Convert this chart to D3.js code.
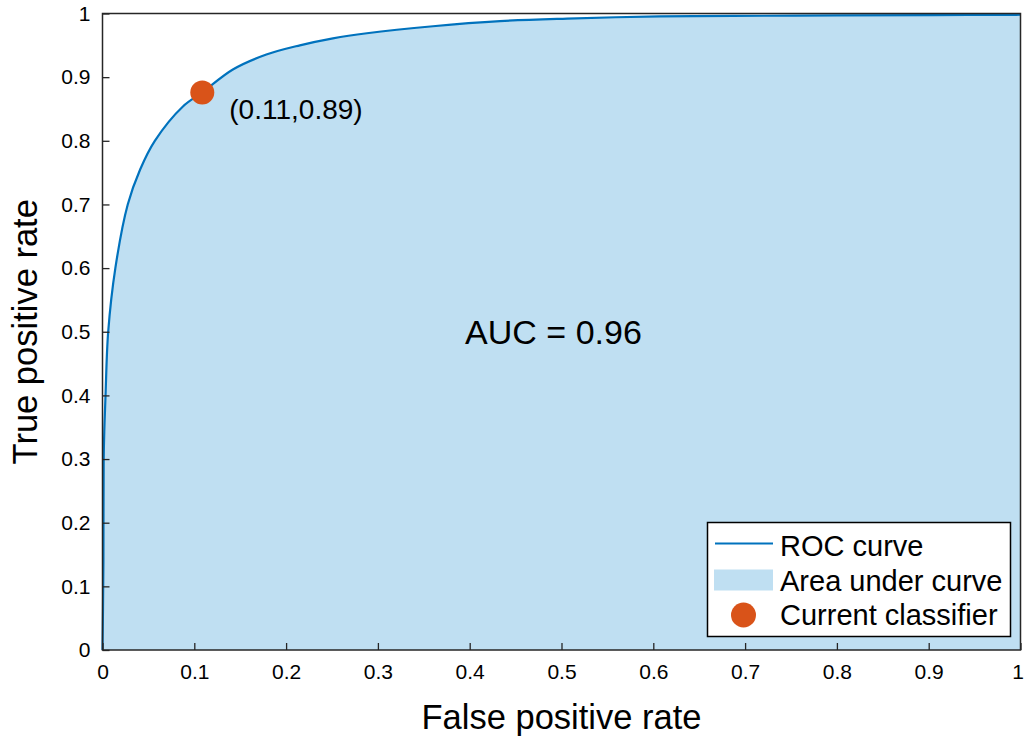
<!DOCTYPE html>
<html>
<head>
<meta charset="utf-8">
<script src="https://cdn.jsdelivr.net/npm/d3@7"></script>
<style>
  body { margin: 0; background: #fff; }
  svg { font-family: "Liberation Sans", Arial, sans-serif; }
</style>
</head>
<body>
<svg width="1024" height="738"></svg>
<script>
"use strict";

// ROC curve points
const fpr = [0, 0.0005, 0.001, 0.0013, 0.002, 0.0033, 0.0062, 0.014, 0.0275, 0.041, 0.057, 0.0876, 0.1087,
  0.142, 0.1785, 0.215, 0.251, 0.288, 0.36, 0.433, 0.506, 0.607, 0.687, 0.8, 0.905, 1.0];
const tpr = [0, 0.06, 0.14, 0.3, 0.346, 0.40, 0.50, 0.60, 0.70, 0.755, 0.80, 0.854, 0.876,
  0.912, 0.9355, 0.950, 0.961, 0.969, 0.980, 0.988, 0.992, 0.9955, 0.9962, 0.997, 0.9974, 0.998];

// current operating point (marker) and its label
const classifier = [0.1087, 0.876];
const classifierLabel = "(0.11,0.89)";
const aucLabel = "AUC = 0.96";

const ticks = [0, 0.1, 0.2, 0.3, 0.4, 0.5, 0.6, 0.7, 0.8, 0.9, 1];
const legendItems = ["ROC curve", "Area under curve", "Current classifier"];

const lineColor = "#0072BD";
const fillColor = "#BFDFF2";
const markerColor = "#D95319";

const svg = d3.select("svg");

// 축 범위 (MATLAB 스타일 box)
const x = d3.scaleLinear().domain([0, 1]).range([102.5, 1020.5]);
const y = d3.scaleLinear().domain([0, 1]).range([650, 13.5]);

const pts = fpr.map((f, i) => [f, tpr[i]]);

const line = d3.line()
  .x((d) => x(d[0]))
  .y((d) => y(d[1]))
  .curve(d3.curveCatmullRom.alpha(0.5));

// area under curve: curve path closed down to the x axis
const curvePath = line(pts);
svg.append("path")
  .attr("d", `${curvePath}L${x(1)},${y(0)}L${x(0)},${y(0)}Z`)
  .attr("fill", fillColor);

svg.append("path")
  .attr("d", curvePath)
  .attr("fill", "none")
  .attr("stroke", lineColor)
  .attr("stroke-width", 2.2);

svg.append("circle")
  .attr("cx", x(classifier[0]))
  .attr("cy", y(classifier[1]))
  .attr("r", 12)
  .attr("fill", markerColor);

svg.append("text")
  .attr("x", x(classifier[0]) + 27)
  .attr("y", y(classifier[1]) + 27)
  .attr("font-size", 28)
  .attr("fill", "#000")
  .text(classifierLabel);

svg.append("text")
  .attr("x", x(0.395))
  .attr("y", y(0.48))
  .attr("font-size", 34)
  .attr("fill", "#000")
  .text(aucLabel);

// axes, ticks pointing inward
const fmt = (d) => (d === 0 || d === 1 ? d3.format("d")(d) : d3.format(".1f")(d));

const xAxis = svg.append("g")
  .attr("transform", `translate(0,${y(0)})`)
  .call(d3.axisBottom(x).tickValues(ticks).tickFormat(fmt).tickSizeInner(-7).tickSizeOuter(0).tickPadding(14));

const yAxis = svg.append("g")
  .attr("transform", `translate(${x(0)},0)`)
  .call(d3.axisLeft(y).tickValues(ticks).tickFormat(fmt).tickSizeInner(-7).tickSizeOuter(0).tickPadding(12));

[xAxis, yAxis].forEach((g) => {
  g.select(".domain").remove();
  g.selectAll(".tick line").attr("stroke", "#262626").attr("stroke-width", 1.3);
  g.selectAll(".tick text")
    .attr("font-size", 21)
    .attr("font-family", "Liberation Sans, Arial, sans-serif")
    .attr("fill", "#000");
});

// 오른쪽 끝 "1" 라벨이 화면 밖으로 잘리지 않게 살짝 당김
xAxis.selectAll(".tick text").filter((d) => d === 1).attr("dx", -3);

// box
svg.append("rect")
  .attr("x", x(0))
  .attr("y", y(1))
  .attr("width", x(1) - x(0))
  .attr("height", y(0) - y(1))
  .attr("fill", "none")
  .attr("stroke", "#262626")
  .attr("stroke-width", 1.5);

// axis titles
svg.append("text")
  .attr("x", (x(0) + x(1)) / 2)
  .attr("y", 729)
  .attr("text-anchor", "middle")
  .attr("font-size", 34.5)
  .attr("fill", "#000")
  .text("False positive rate");

svg.append("text")
  .attr("transform", `translate(37,${(y(0) + y(1)) / 2}) rotate(-90)`)
  .attr("text-anchor", "middle")
  .attr("font-size", 34.5)
  .attr("fill", "#000")
  .text("True positive rate");

// legend
const lg = svg.append("g");
lg.append("rect")
  .attr("x", 707.5)
  .attr("y", 522.5)
  .attr("width", 303)
  .attr("height", 114)
  .attr("fill", "#fff")
  .attr("stroke", "#000")
  .attr("stroke-width", 1.5);

lg.append("line")
  .attr("x1", 715).attr("x2", 773)
  .attr("y1", 543.5).attr("y2", 543.5)
  .attr("stroke", lineColor)
  .attr("stroke-width", 2.2);

lg.append("rect")
  .attr("x", 714).attr("y", 569.5)
  .attr("width", 59).attr("height", 21)
  .attr("fill", fillColor);

lg.append("circle")
  .attr("cx", 743.5).attr("cy", 615)
  .attr("r", 12.5)
  .attr("fill", markerColor);

lg.selectAll("text.leg")
  .data(legendItems)
  .enter()
  .append("text")
  .attr("class", "leg")
  .attr("x", 780)
  .attr("y", (d, i) => 556 + i * 34.5)
  .attr("font-size", 29)
  .attr("fill", "#000")
  .text((d) => d);
</script>
</body>
</html>
